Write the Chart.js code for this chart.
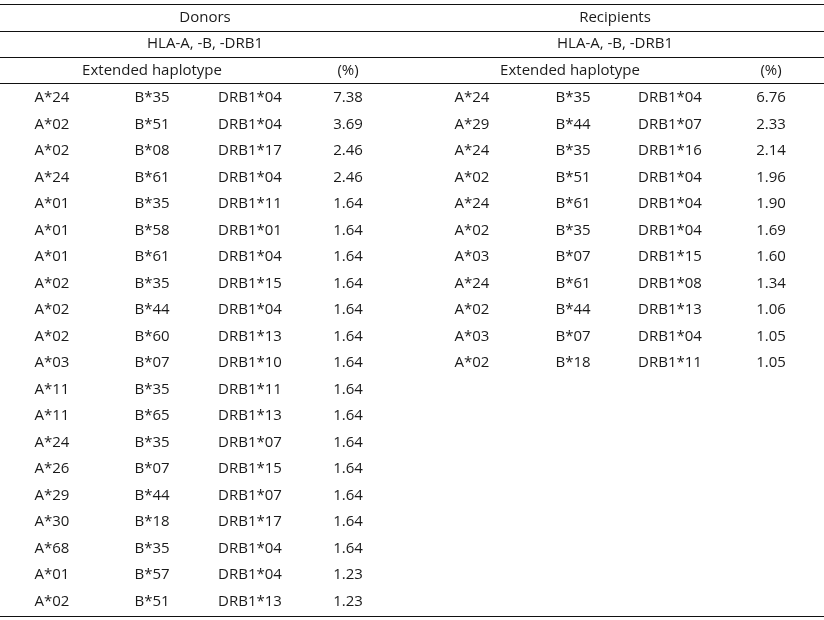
<!DOCTYPE html>
<html><head><meta charset="utf-8">
<script src="https://cdn.jsdelivr.net/npm/chart.js@4"></script>
<style>html,body{margin:0;padding:0;background:#fff}#w{width:824px;height:620px}</style>
</head><body><div id="w"><canvas id="c"></canvas></div>
<script>
const donorA=["A*24","A*02","A*02","A*24","A*01","A*01","A*01","A*02","A*02","A*02","A*03","A*11","A*11","A*24","A*26","A*29","A*30","A*68","A*01","A*02"];
const donorB=["B*35","B*51","B*08","B*61","B*35","B*58","B*61","B*35","B*44","B*60","B*07","B*35","B*65","B*35","B*07","B*44","B*18","B*35","B*57","B*51"];
const donorDRB=["DRB1*04","DRB1*04","DRB1*17","DRB1*04","DRB1*11","DRB1*01","DRB1*04","DRB1*15","DRB1*04","DRB1*13","DRB1*10","DRB1*11","DRB1*13","DRB1*07","DRB1*15","DRB1*07","DRB1*17","DRB1*04","DRB1*04","DRB1*13"];
const donorPct=[7.38,3.69,2.46,2.46,1.64,1.64,1.64,1.64,1.64,1.64,1.64,1.64,1.64,1.64,1.64,1.64,1.64,1.64,1.23,1.23];
const recA=["A*24","A*29","A*24","A*02","A*24","A*02","A*03","A*24","A*02","A*03","A*02"];
const recB=["B*35","B*44","B*35","B*51","B*61","B*35","B*07","B*61","B*44","B*07","B*18"];
const recDRB=["DRB1*04","DRB1*07","DRB1*16","DRB1*04","DRB1*04","DRB1*04","DRB1*15","DRB1*08","DRB1*13","DRB1*04","DRB1*11"];
const recPct=[6.76,2.33,2.14,1.96,1.90,1.69,1.60,1.34,1.06,1.05,1.05];

const FONT='15px "Open Sans", "DejaVu Sans", sans-serif';
const tablePlugin={id:'tbl',afterDraw(chart){
  const ctx=chart.ctx,X=chart.scales.x,Y=chart.scales.y;
  const px=v=>X.getPixelForValue(v),py=v=>Y.getPixelForValue(v);
  ctx.save();
  ctx.strokeStyle='#111';ctx.lineWidth=1;
  [4.5,31.5,57.5,83.5,616.5].forEach(y=>{ctx.beginPath();ctx.moveTo(px(0),py(y));ctx.lineTo(px(824),py(y));ctx.stroke();});
  ctx.fillStyle='#1a1a1a';ctx.font=FONT;ctx.textAlign='center';ctx.textBaseline='middle';
  const t=(s,x,y)=>ctx.fillText(s,px(x),py(y));
  t('Donors',205,18);t('Recipients',615,18);
  t('HLA-A, -B, -DRB1',205,44);t('HLA-A, -B, -DRB1',615,44);
  t('Extended haplotype',152,71);t('(%)',348,71);
  t('Extended haplotype',570,71);t('(%)',771,71);
  const rowY=i=>98+i*26.5;
  donorA.forEach((a,i)=>{t(a,52,rowY(i));t(donorB[i],152,rowY(i));t(donorDRB[i],250,rowY(i));t(donorPct[i].toFixed(2),348,rowY(i));});
  recA.forEach((a,i)=>{t(a,472,rowY(i));t(recB[i],573,rowY(i));t(recDRB[i],670,rowY(i));t(recPct[i].toFixed(2),771,rowY(i));});
  ctx.restore();
}};
new Chart(document.getElementById('c'),{
  type:'scatter',
  data:{datasets:[{data:[],pointRadius:0}]},
  options:{responsive:true,maintainAspectRatio:false,animation:false,
    layout:{padding:0},
    plugins:{legend:{display:false},tooltip:{enabled:false}},
    scales:{x:{type:'linear',min:0,max:824,display:false},y:{type:'linear',min:0,max:620,reverse:true,display:false}}},
  plugins:[tablePlugin]
});
</script></body></html>
